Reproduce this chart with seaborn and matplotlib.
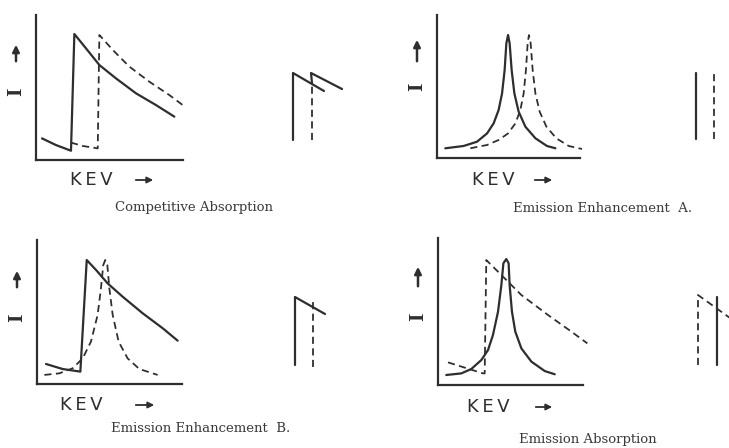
import numpy as np
import pandas as pd
import seaborn as sns
import matplotlib.pyplot as plt

# curves: KEV (0-10 along the x axis) vs I (0-10 up the y axis)
ca_solid_kev = [0.41, 1.36, 2.38, 2.61, 3.40, 4.31, 5.44, 6.80, 8.16, 9.41]
ca_solid_i = [1.49, 1.03, 0.64, 8.69, 7.70, 6.55, 5.63, 4.60, 3.79, 2.99]
ca_dash_kev = [2.38, 3.17, 4.20, 4.31, 5.22, 6.35, 7.71, 9.07, 9.98]
ca_dash_i = [1.20, 0.97, 0.80, 8.62, 7.59, 6.44, 5.40, 4.48, 3.79]

ea_solid_kev = [0.58, 1.86, 2.80, 3.50, 3.96, 4.31, 4.55, 4.73, 4.85, 4.97, 5.08,
                5.22, 5.41, 5.71, 6.18, 6.88, 7.69, 8.28]
ea_solid_i = [0.68, 0.84, 1.14, 1.72, 2.42, 3.36, 4.52, 6.15, 8.02, 8.60, 8.02,
              6.15, 4.52, 3.24, 2.19, 1.38, 0.84, 0.68]
ea_dash_kev = [2.33, 3.50, 4.31, 4.97, 5.48, 5.83, 6.06, 6.22, 6.34, 6.43, 6.55,
               6.69, 6.88, 7.18, 7.65, 8.34, 9.21, 10.14]
ea_dash_i = [0.68, 0.91, 1.26, 1.72, 2.42, 3.36, 4.52, 6.15, 8.02, 8.60, 8.02,
             6.15, 4.52, 3.24, 2.19, 1.38, 0.84, 0.63]

eb_solid_kev = [0.62, 1.77, 2.99, 3.43, 4.07, 4.87, 5.91, 7.29, 8.67, 9.70]
eb_solid_i = [1.39, 1.04, 0.86, 8.61, 7.92, 6.99, 6.06, 4.91, 3.87, 3.01]
eb_dash_kev = [0.51, 1.54, 2.46, 3.15, 3.72, 4.18, 4.41, 4.57, 4.71, 4.85, 4.99,
               5.22, 5.63, 6.25, 7.06, 8.32]
eb_dash_i = [0.63, 0.74, 1.09, 1.78, 2.94, 4.79, 6.64, 8.26, 8.61, 8.26, 6.64,
             4.79, 2.94, 1.78, 1.04, 0.63]

eab_solid_kev = [0.57, 1.61, 2.30, 2.99, 3.45, 3.79, 4.14, 4.37, 4.51, 4.71, 4.87,
                 4.94, 5.10, 5.33, 5.75, 6.44, 7.36, 8.05]
eab_solid_i = [0.68, 0.79, 1.09, 1.70, 2.38, 3.40, 4.99, 6.80, 8.28, 8.57, 8.28,
               6.80, 4.99, 3.63, 2.49, 1.59, 0.95, 0.73]
eab_dash_kev = [0.69, 3.10, 3.22, 3.33, 4.37, 5.75, 7.59, 9.20, 10.30]
eab_dash_i = [1.54, 0.79, 0.79, 8.50, 7.48, 6.12, 4.76, 3.63, 2.83]

# small line-spectrum sketches beside each panel
m1_solid_x, m1_solid_y = [0.8, 0.8, 3.9], [0.5, 7.2, 5.4]
m1_dash_x, m1_dash_y = [2.7, 2.7], [0.5, 6.2]
m1_edge_x, m1_edge_y = [2.7, 2.6, 5.7], [6.2, 7.2, 5.6]
m2_solid_x, m2_solid_y = [1.6, 1.6], [0.6, 7.2]
m2_dash_x, m2_dash_y = [3.4, 3.4], [0.6, 7.3]
m3_solid_x, m3_solid_y = [1.0, 1.0, 4.0], [0.5, 7.3, 5.6]
m3_dash_x, m3_dash_y = [2.8, 2.8], [0.3, 7.1]
m4_solid_x, m4_solid_y = [2.7, 2.7], [0.5, 7.3]
m4_dash_x, m4_dash_y = [0.8, 0.8, 4.0], [0.5, 7.5, 5.2]

titles = ["Competitive Absorption", "Emission Enhancement  A.",
          "Emission Enhancement  B.", "Emission Absorption"]

W, H = 729, 448
INK = "#2e2e2e"

sns.set_theme(style="white")
fig = plt.figure(figsize=(W / 100, H / 100), dpi=100)
fig.patch.set_facecolor("white")


def px_axes(left, top, right, bottom):
    return fig.add_axes([left / W, 1 - bottom / H, (right - left) / W, (bottom - top) / H])


def curve(ax, x, y, dashed=False, lw=1.6):
    df = pd.DataFrame({"x": x, "y": y})
    sns.lineplot(data=df, x="x", y="y", ax=ax, sort=False, estimator=None,
                 color=INK, lw=lw if not dashed else lw * 0.8,
                 linestyle=(0, (4, 2.5)) if dashed else "-", clip_on=False)


def panel(box, solid, dash):
    ax = px_axes(*box)
    curve(ax, *solid)
    curve(ax, *dash, dashed=True)
    ax.set_xlim(0, 10)
    ax.set_ylim(0, 10)
    for s in ["top", "right"]:
        ax.spines[s].set_visible(False)
    for s in ["left", "bottom"]:
        ax.spines[s].set_color(INK)
        ax.spines[s].set_linewidth(1.6)
    ax.set_xticks([])
    ax.set_yticks([])
    ax.set_xlabel("")
    ax.set_ylabel("")
    ax.set_facecolor("none")
    return ax


def mini(left, top, w, h, lines):
    ax = px_axes(left, top, left + w, top + h)
    for x, y, d in lines:
        curve(ax, x, y, dashed=d)
    ax.set_xlim(0, w / 10)
    ax.set_ylim(0, h / 10)
    ax.axis("off")


panel((36, 15, 183, 160), (ca_solid_kev, ca_solid_i), (ca_dash_kev, ca_dash_i))
panel((437, 15, 580, 158), (ea_solid_kev, ea_solid_i), (ea_dash_kev, ea_dash_i))
panel((37, 240, 182, 384), (eb_solid_kev, eb_solid_i), (eb_dash_kev, eb_dash_i))
panel((438, 238, 583, 385), (eab_solid_kev, eab_solid_i), (eab_dash_kev, eab_dash_i))

mini(285, 65, 60, 80, [(m1_solid_x, m1_solid_y, False), (m1_dash_x, m1_dash_y, True),
                       (m1_edge_x, m1_edge_y, False)])
mini(680, 65, 49, 80, [(m2_solid_x, m2_solid_y, False), (m2_dash_x, m2_dash_y, True)])
mini(285, 290, 50, 80, [(m3_solid_x, m3_solid_y, False), (m3_dash_x, m3_dash_y, True)])
mini(690, 290, 39, 80, [(m4_solid_x, m4_solid_y, False), (m4_dash_x, m4_dash_y, True)])

# overlay in pixel units for labels and arrows
ov = fig.add_axes([0, 0, 1, 1])
ov.set_xlim(0, W)
ov.set_ylim(H, 0)
ov.axis("off")

kev_pos = [(91, 180, 133, 156), (493, 180, 532, 555), (81, 405, 133, 157), (488, 407, 533, 555)]
ylab_pos = [(16, 64, 42, 92), (417, 64, 37, 87), (17, 290, 268, 318), (418, 289, 264, 317)]
title_pos = [(194, 207), (603, 209), (201, 429), (588, 440)]

for (kx, ky, a0, a1), (yx, yb, yt, iy), (tx, ty), t in zip(kev_pos, ylab_pos, title_pos, titles):
    ov.text(kx, ky, "K\u2009E\u2009V", ha="center", va="center", fontsize=13,
            family="DejaVu Sans", color=INK)
    ov.annotate("", xy=(a1, ky), xytext=(a0, ky),
                arrowprops=dict(arrowstyle="-|>", color=INK, lw=1.3, mutation_scale=9))
    ov.annotate("", xy=(yx, yt), xytext=(yx, yb),
                arrowprops=dict(arrowstyle="-|>", color=INK, lw=1.8, mutation_scale=10))
    ov.text(yx, iy, "I", ha="center", va="center", rotation=90, fontsize=13,
            family="DejaVu Serif", weight="bold", color=INK)
    ov.text(tx, ty, t, ha="center", va="center", fontsize=9.5,
            family="DejaVu Serif", color="#3a3a3a")

fig.savefig("out.png", dpi=100, facecolor="white")
